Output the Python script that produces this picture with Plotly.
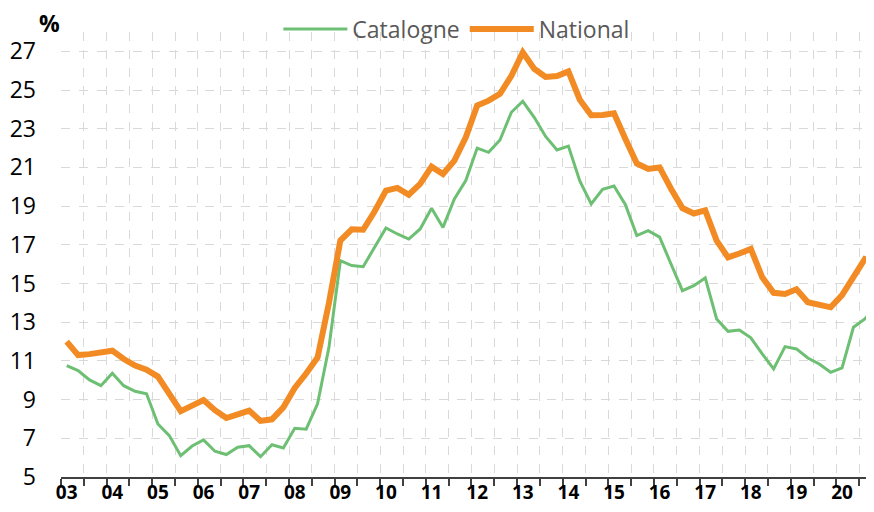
import plotly.graph_objects as go

# Tick labels (years) and quarterly categories 2003Q1 .. 2020Q4
year_labels = ["03", "04", "05", "06", "07", "08", "09", "10", "11",
               "12", "13", "14", "15", "16", "17", "18", "19", "20"]
quarters = [f"20{y}Q{q}" for y in year_labels for q in (1, 2, 3, 4)]

national = [
    12.0, 11.3, 11.35, 11.43, 11.53, 11.1, 10.76, 10.55,
    10.19, 9.3, 8.4, 8.69, 8.98, 8.45, 8.05, 8.24,
    8.43, 7.9, 7.98, 8.6, 9.6, 10.35, 11.17, 14.0,
    17.22, 17.8, 17.78, 18.72, 19.8, 19.94, 19.59, 20.15,
    21.04, 20.66, 21.35, 22.56, 24.2, 24.45, 24.8, 25.74,
    26.95, 26.1, 25.68, 25.72, 25.96, 24.5, 23.7, 23.71,
    23.8, 22.47, 21.2, 20.92, 21.0, 19.9, 18.9, 18.62,
    18.78, 17.22, 16.35, 16.55, 16.79, 15.32, 14.52, 14.46,
    14.7, 14.03, 13.93, 13.77, 14.4, 15.32, 16.27, 16.1,
]

catalogne = [
    10.76, 10.5, 10.02, 9.72, 10.36, 9.72, 9.43, 9.3,
    7.74, 7.14, 6.1, 6.6, 6.92, 6.33, 6.16, 6.54,
    6.62, 6.05, 6.67, 6.5, 7.52, 7.47, 8.78, 11.7,
    16.18, 15.93, 15.87, 16.87, 17.87, 17.56, 17.3, 17.82,
    18.89, 17.9, 19.37, 20.32, 22.0, 21.78, 22.42, 23.85,
    24.42, 23.59, 22.6, 21.9, 22.1, 20.3, 19.11, 19.87,
    20.04, 19.07, 17.48, 17.73, 17.4, 16.01, 14.63, 14.89,
    15.29, 13.17, 12.53, 12.6, 12.19, 11.36, 10.59, 11.74,
    11.62, 11.15, 10.84, 10.41, 10.64, 12.74, 13.17, 13.85,
]

y_ticks = [5, 7, 9, 11, 13, 15, 17, 19, 21, 23, 25, 27]

GREEN = "#6DBF73"
ORANGE = "#F28B24"
FONT = "Open Sans"

x_idx = list(range(len(quarters)))

fig = go.Figure()
fig.add_trace(go.Scatter(
    x=x_idx, y=catalogne, name="Catalogne", mode="lines",
    line=dict(color=GREEN, width=3),
    customdata=quarters, hovertemplate="%{customdata}: %{y}<extra>Catalogne</extra>",
))
fig.add_trace(go.Scatter(
    x=x_idx, y=national, name="National", mode="lines",
    line=dict(color=ORANGE, width=6),
    customdata=quarters, hovertemplate="%{customdata}: %{y}<extra>National</extra>",
))

major_vals = list(range(0, len(quarters), 4))
minor_vals = [i - 0.5 for i in range(0, len(quarters) + 2, 2)]

# The page body has an 8px margin, so the figure is sized to fit inside it.
fig.update_layout(
    width=858, height=496,
    margin=dict(l=53, r=0, t=24, b=27, autoexpand=False),
    paper_bgcolor="white", plot_bgcolor="white",
    font=dict(family=FONT, color="#000000"),
    showlegend=True,
    legend=dict(
        orientation="h", x=0.270, y=1 - 21 / 496, yref="container",
        xanchor="left", yanchor="middle",
        font=dict(size=23, color="#595959", family=FONT),
        bgcolor="rgba(0,0,0,0)", itemwidth=64, tracegroupgap=0,
    ),
    xaxis=dict(
        range=[-0.5, 70.1], automargin=False,
        tickmode="array", tickvals=major_vals, ticktext=year_labels,
        showgrid=False, ticks="",
        tickfont=dict(size=19, family=FONT, color="#000000", weight="bold"),
        ticklabelstandoff=-3,
        showline=True, linecolor="#404040", linewidth=2,
        zeroline=False,
        minor=dict(
            tickmode="array", tickvals=minor_vals,
            ticks="outside", ticklen=7, tickcolor="#404040", tickwidth=1.5,
            showgrid=True, gridcolor="#D9D9D9", griddash="dash", gridwidth=1,
        ),
    ),
    yaxis=dict(
        range=[5, 28], automargin=False,
        tickmode="array", tickvals=y_ticks,
        showgrid=True, gridcolor="#D9D9D9", griddash="dash", gridwidth=1,
        showline=False, zeroline=False, ticks="",
        tickfont=dict(size=23, family=FONT, color="#000000"),
        ticklabelstandoff=24,
    ),
    annotations=[dict(
        text="<b>%</b>", xref="paper", yref="paper", x=0, y=1,
        xanchor="right", yanchor="bottom", xshift=1, yshift=-9,
        showarrow=False, font=dict(size=23, family=FONT, color="#000000"),
    )],
)

fig.write_html("out.html")
